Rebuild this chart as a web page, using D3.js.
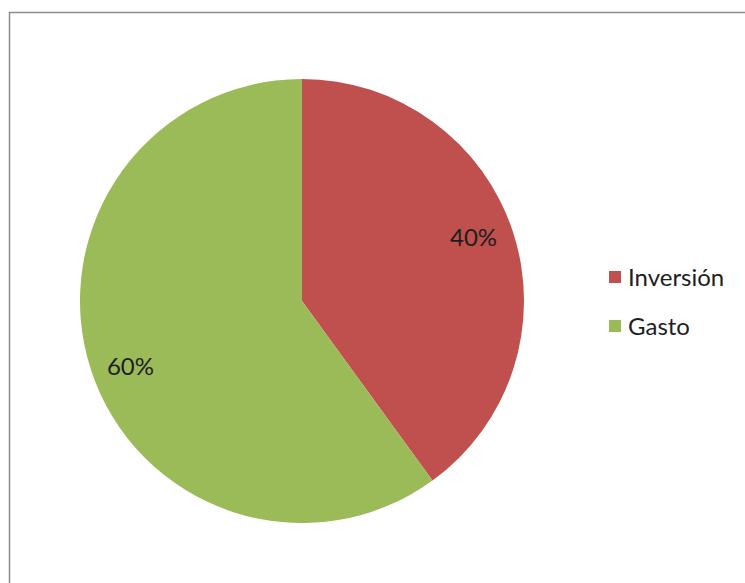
<!DOCTYPE html>
<html><head><meta charset="utf-8">
<script src="https://cdn.jsdelivr.net/npm/d3@7"></script>
<style>html,body{margin:0;padding:0;background:#fff;}</style>
</head><body>
<svg id="chart" width="745" height="583"></svg>
<script>
const categories = ["Inversión", "Gasto"];
const values = [40, 60];
const labels = ["40%", "60%"];
const colors = ["#C0504D", "#9BBB59"];

const svg = d3.select("#chart");
svg.append("rect").attr("x", 9.5).attr("y", 12.5).attr("width", 745).attr("height", 583)
  .attr("fill", "#fff").attr("stroke", "#8c8c8c").attr("stroke-width", 1.5);

const cx = 302, cy = 301, r = 222;
const pie = d3.pie().sort(null).value(d => d)(values);
const arc = d3.arc().innerRadius(0).outerRadius(r);
const lr = r * 0.825, shift = -0.044;
const g = svg.append("g").attr("transform", `translate(${cx},${cy})`);
g.selectAll("path").data(pie).join("path")
  .attr("d", arc).attr("fill", (d, i) => colors[i]);
g.selectAll("text").data(pie).join("text")
  .attr("transform", d => {
    const a = (d.startAngle + d.endAngle) / 2 + shift;
    return `translate(${lr * Math.sin(a)},${-lr * Math.cos(a)})`;
  })
  .attr("text-anchor", "middle").attr("dominant-baseline", "central")
  .attr("font-family", "Lato, 'Open Sans', sans-serif").attr("font-size", 24)
  .attr("fill", "#1e1e1e")
  .text((d, i) => labels[i]);

const lg = svg.append("g").attr("transform", "translate(609,271)");
const items = lg.selectAll("g").data(categories).join("g")
  .attr("transform", (d, i) => `translate(0,${i * 49})`);
items.append("rect").attr("width", 12).attr("height", 12).attr("fill", (d, i) => colors[i]);
items.append("text").attr("x", 19).attr("y", 5).attr("dominant-baseline", "central")
  .attr("font-family", "Lato, 'Open Sans', sans-serif").attr("font-size", 24).attr("fill", "#1e1e1e")
  .text(d => d);
</script>
</body></html>
